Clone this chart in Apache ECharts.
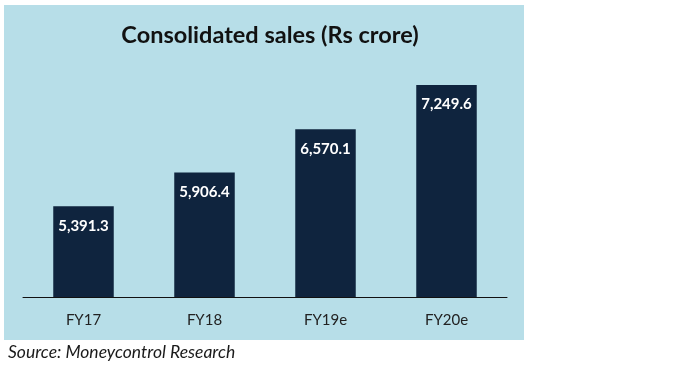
<!DOCTYPE html>
<html>
<head>
<meta charset="utf-8">
<script src="https://cdn.jsdelivr.net/npm/echarts@6/dist/echarts.min.js"></script>
<style>
html,body{margin:0;padding:0;background:#fff;}
#c{width:699px;height:367px;}
</style>
</head>
<body>
<div id="c"></div>
<script>
const categories = ["FY17", "FY18", "FY19e", "FY20e"];
const sales = [5391.3, 5906.4, 6570.1, 7249.6];
const titleText = "Consolidated sales (Rs crore)";
const sourceText = "Source: Moneycontrol Research";

function fmt(v) {
  return v.toLocaleString("en-US", {minimumFractionDigits: 1, maximumFractionDigits: 1});
}

const chart = echarts.init(document.getElementById("c"), null, {renderer: "canvas"});
chart.setOption({
  backgroundColor: "#ffffff",
  animation: false,
  graphic: [
    {type: "rect", z: -10, shape: {x: 4, y: 5, width: 520, height: 335}, style: {fill: "#B7DEE8"}},
    {type: "text", left: 8, top: 343, style: {text: sourceText, font: "italic 17.5px Lato, 'Open Sans', sans-serif", fill: "#1a1a1a"}}
  ],
  title: {
    text: titleText,
    left: 265,
    top: 18,
    textAlign: "center",
    textStyle: {fontFamily: "Lato, 'Open Sans', sans-serif", fontWeight: "bold", fontSize: 23.5, color: "#111"}
  },
  grid: {left: 23, right: 192, top: 36, bottom: 70, containLabel: false},
  xAxis: {
    type: "category",
    data: categories,
    axisLine: {lineStyle: {color: "#111", width: 1}},
    axisTick: {show: false},
    axisLabel: {color: "#222", fontSize: 15, margin: 16, fontFamily: "Lato, 'Open Sans', sans-serif"}
  },
  yAxis: {
    type: "value",
    min: 4000,
    max: 8000,
    interval: 1000,
    show: false,
    splitLine: {show: false}
  },
  series: [{
    type: "bar",
    data: sales,
    barWidth: "50%",
    itemStyle: {color: "#0F243E"},
    label: {
      show: true,
      position: "insideTop",
      distance: 12,
      color: "#fff",
      fontWeight: "bold",
      fontSize: 15,
      fontFamily: "Lato, 'Open Sans', sans-serif",
      formatter: p => fmt(p.value)
    }
  }]
});
</script>
</body>
</html>
